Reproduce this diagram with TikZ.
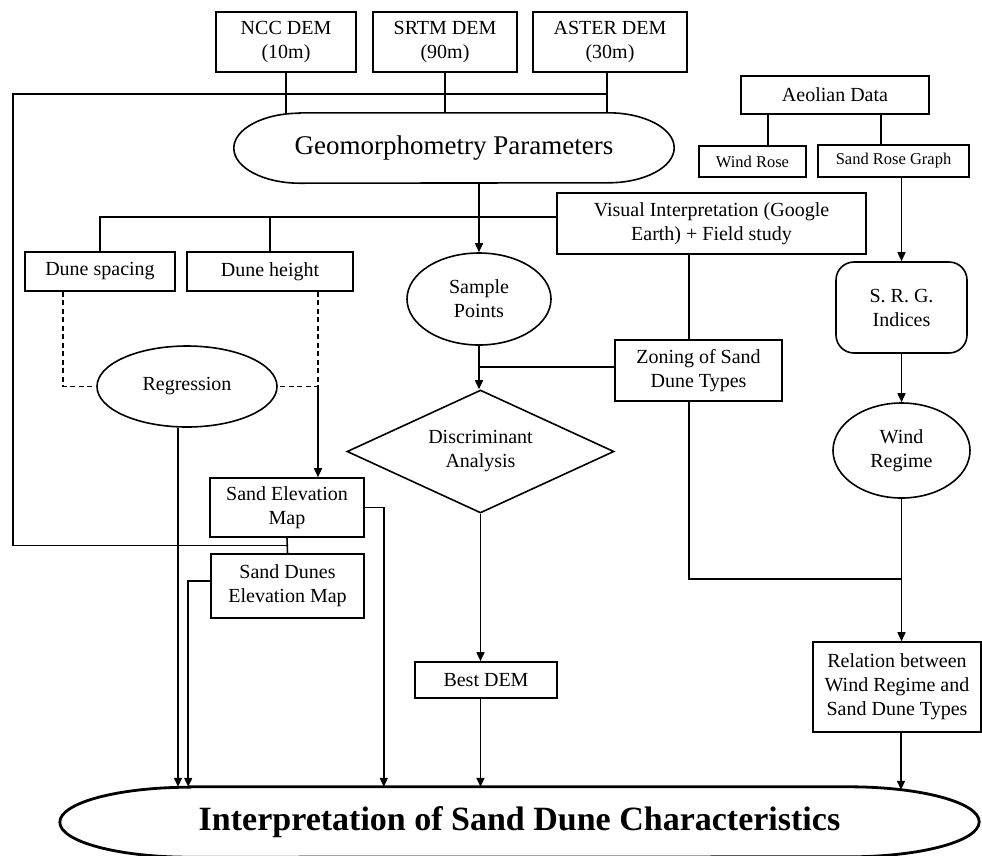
\documentclass[tikz,border=0pt]{standalone}
\usepackage{fontspec}
\setmainfont{Liberation Serif}
\usetikzlibrary{arrows.meta,shapes.geometric,calc}
\begin{document}
\begin{tikzpicture}[x=1pt,y=-1pt,
 lw/.style={line width=1.6pt},
 box/.style={draw, lw, rectangle, align=center, inner sep=0pt, font=\fontsize{20}{24}\selectfont},
 sbox/.style={box, font=\fontsize{16.5}{20}\selectfont},
 ell/.style={draw, lw, ellipse, align=center, inner sep=0pt, font=\fontsize{20}{24}\selectfont},
 arr/.style={lw, -{Triangle[length=9pt,width=8pt]}},
 con/.style={lw},
 dsh/.style={lw, dash pattern=on 5pt off 3.5pt},
 sz/.style 2 args={minimum width=#1pt, minimum height=#2pt}
]
\useasboundingbox (0,0) rectangle (982,855);
\fill[white] (0,0) rectangle (982,855);

% nodes
\node[box, sz={140}{60}] (ncc) at (286,42) {NCC DEM\\(10m)};
\node[box, sz={144}{60}] (srtm) at (445,42) {SRTM DEM\\(90m)};
\node[box, sz={154}{60}] (aster) at (610,42) {ASTER DEM\\(30m)};
\node[box, sz={188}{38}] (aeol) at (835,95) {Aeolian Data};
\node[sbox, sz={107}{31}] (wrose) at (752.5,161.5) {Wind Rose};
\node[sbox, sz={151}{32}] (srg) at (893.5,161) {Sand Rose Graph};
\node[draw=none, align=center, inner sep=0pt, sz={440}{70}, font=\fontsize{27}{32}\selectfont] (geo) at (454,148) {Geomorphometry Parameters};
\node[box, sz={309}{61}] (vi) at (711.5,223.5) {Visual Interpretation (Google\\Earth) + Field study};
\node[box, sz={150}{39}] (dsp) at (100,271.5) {Dune spacing};
\node[box, sz={166}{39}] (dht) at (270,271.5) {Dune height};
\node[ell, sz={144}{92}] (samp) at (479,299) {Sample\\Points};
\node[box, rounded corners=18pt, sz={131}{91}] (srgi) at (901.5,307.5) {S. R. G.\\Indices};
\node[box, sz={167}{61}] (zone) at (698.5,370.5) {Zoning of Sand\\Dune Types};
\node[ell, sz={180}{81}] (reg) at (187,386.5) {Regression};
\node[diamond, draw, lw, align=center, inner sep=0pt, shape aspect=2.17, sz={267}{123}, font=\fontsize{20}{24}\selectfont] (disc) at (480.5,451.5) {Discriminant\\Analysis};
\node[ell, sz={137}{95}] (wind) at (901.5,450.5) {Wind\\Regime};
\node[box, sz={154}{59}] (sem) at (287,507.5) {Sand Elevation\\Map};
\node[box, sz={153}{64}] (sdem) at (287.5,586) {Sand Dunes\\Elevation Map};
\node[box, sz={142}{36}] (best) at (486,680) {Best DEM};
\node[box, sz={168}{90}] (rel) at (897,687) {Relation between\\Wind Regime and\\Sand Dune Types};
\node[draw=none, inner sep=0pt, sz={919}{70}, font=\bfseries\fontsize{34}{40}\selectfont] (fin) at (519.5,822) {Interpretation of Sand Dune Characteristics};

% custom outlines
\draw[lw] ([xshift=66pt]geo.north west) -- ([xshift=-66pt]geo.north east)
  arc[start angle=90,end angle=-90,x radius=66pt,y radius=35pt]
  -- ([xshift=66pt]geo.south west)
  arc[start angle=270,end angle=90,x radius=66pt,y radius=35pt] -- cycle;
\draw[line width=2.8pt] ([xshift=130pt]fin.north west) -- ([xshift=-130pt]fin.north east)
  arc[start angle=90,end angle=-90,x radius=130pt,y radius=35pt]
  -- ([xshift=130pt]fin.south west)
  arc[start angle=270,end angle=90,x radius=130pt,y radius=35pt] -- cycle;

% coordinates
\coordinate (lt) at (13,94);
\coordinate (as) at ([xshift=-3pt]aster.south);
\coordinate (j) at ($(sem.south)!0.5!(sdem.north)$);
\coordinate (h1) at ([yshift=6.5pt]vi.west);
\coordinate (dl) at ([xshift=-37pt]dsp.south);
\coordinate (dr) at ([xshift=48pt]dht.south);
\coordinate (rg) at ([xshift=-9pt]reg.south);
\coordinate (zw) at ([yshift=3.5pt]zone.west);
\coordinate (zx) at ([xshift=-9.5pt]zone.north);
\coordinate (zs) at ([xshift=-9.5pt]zone.south);
\coordinate (k) at (901.5,579);
\coordinate (wa) at ([xshift=15.5pt]wrose.north);
\coordinate (sa) at ([xshift=-12.5pt]srg.north);
\coordinate (rf) at ([xshift=381.5pt,yshift=-3pt]fin.north);
\coordinate (sdw) at ([yshift=5pt]sdem.west);

% connectors
\draw[con] (ncc.south) -- (ncc.south |- geo.north);
\draw[con] (srtm.south) -- (srtm.south |- geo.north);
\draw[con] (as) -- (as |- geo.north);
\draw[con] (as |- lt) -- (lt) |- (j);
\draw[con] (sem.south) -- (sdem.north);

\draw[con] (wa) -- (wa |- aeol.south);
\draw[con] (sa) -- (sa |- aeol.south);
\draw[arr] (srgi.north |- srg.south) -- (srgi.north);
\draw[arr] (srgi.south) -- (wind.north);
\draw[arr] (wind.south) -- (wind.south |- rel.north);
\draw[arr] (rf |- rel.south) -- (rf);

\draw[arr] (samp.north |- geo.south) -- (samp.north);
\draw[con] (h1) -- (dsp.north |- h1) -- (dsp.north);
\draw[con] (dht.north |- h1) -- (dht.north);

\draw[dsh] (dl) |- (reg.west);
\draw[dsh] (dr) |- (reg.east);
\draw[arr] (dr |- reg.east) -- (dr |- sem.north);
\draw[arr] (rg) -- (rg |- fin.north);

\draw[arr] (samp.south) -- (samp.south |- disc.north);
\draw[con] (zw) -- (samp.south |- zw);
\draw[con] (zx |- vi.south) -- (zx);
\draw[con] (zs) |- (k);

\draw[arr] (disc.south) -- (disc.south |- best.north);
\draw[arr] (disc.south |- best.south) -- (disc.south |- fin.north);
\draw[arr] (sem.east) -- ++(19,0) coordinate (se) -- (se |- fin.north);
\draw[arr] (sdw) -- ++(-22,0) coordinate (sd) -- (sd |- fin.north);
\end{tikzpicture}
\end{document}
